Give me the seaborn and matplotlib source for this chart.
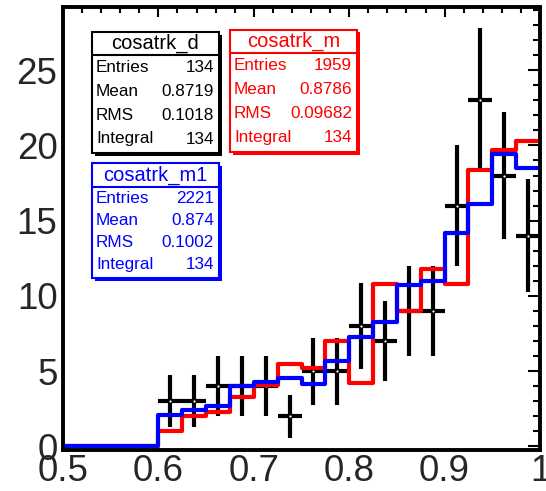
import numpy as np
import pandas as pd
import matplotlib
matplotlib.use("Agg")
import matplotlib.pyplot as plt
from matplotlib.patches import Rectangle
from matplotlib.ticker import MultipleLocator
import seaborn as sns

# cos(theta) of the track, 20 bins between 0.5 and 1.0
n_bins = 20
x_range = (0.5, 1.0)
bin_edges = np.linspace(x_range[0], x_range[1], n_bins + 1)
bin_centers = 0.5 * (bin_edges[:-1] + bin_edges[1:])

# data counts per bin
counts_d = [0, 0, 0, 0, 3, 3, 4, 4, 4, 2, 5, 5, 8, 7, 9, 9, 16, 23, 18, 14]
# MC samples, normalised to the data integral
counts_m = [0, 0, 0, 0, 1.0, 2.0, 2.3, 3.3, 4.1, 5.5, 5.2, 7.0, 4.2, 10.8,
            9.0, 11.8, 10.8, 18.4, 19.7, 20.3]
counts_m1 = [0, 0, 0, 0, 2.1, 2.4, 2.7, 4.0, 4.3, 4.55, 4.15, 5.7, 7.3, 8.3,
             10.7, 11.0, 14.2, 16.1, 19.4, 18.5]

x_ticks = [0.5, 0.6, 0.7, 0.8, 0.9, 1.0]
x_tick_labels = ["0.5", "0.6", "0.7", "0.8", "0.9", "1"]
y_ticks = [0, 5, 10, 15, 20, 25]

# statistics boxes
stats_d = [("Entries", "134"), ("Mean", "0.8719"), ("RMS", "0.1018"), ("Integral", "134")]
stats_m = [("Entries", "1959"), ("Mean", "0.8786"), ("RMS", "0.09682"), ("Integral", "134")]
stats_m1 = [("Entries", "2221"), ("Mean", "0.874"), ("RMS", "0.1002"), ("Integral", "134")]

sns.set_style("white")
plt.rcParams["font.family"] = ["Liberation Sans", "DejaVu Sans"]

W, H = 546, 491
fig = plt.figure(figsize=(W / 100, H / 100), dpi=100)


def fx(px):
    return px / W


def fy(py):
    return 1 - py / H


left, right, top, bottom = 63, 540, 6.5, 449.5
ax = fig.add_axes([fx(left), fy(bottom), fx(right) - fx(left), fy(top) - fy(bottom)])

df = pd.DataFrame({"x": bin_centers, "d": counts_d, "m": counts_m, "m1": counts_m1})

# data points with Poisson errors
nz = df[df["d"] > 0]
ax.errorbar(nz["x"], nz["d"], yerr=np.sqrt(nz["d"]), xerr=0.0125,
            fmt="none", ecolor="black", elinewidth=3.0, capsize=0, zorder=2)
ax.plot(nz["x"], nz["d"], "o", color="white", ms=1.6, mec="none", zorder=2.1)

sns.histplot(data=df, x="x", weights="m", bins=n_bins, binrange=x_range,
             element="step", fill=False, color="#ff0000", linewidth=3.0,
             ax=ax, zorder=3)
sns.histplot(data=df, x="x", weights="m1", bins=n_bins, binrange=x_range,
             element="step", fill=False, color="#0000ff", linewidth=3.0,
             ax=ax, zorder=4)

ax.set_xlim(*x_range)
ax.set_ylim(-0.2, 29.23)
ax.set_xlabel("")
ax.set_ylabel("")
ax.set_xticks(x_ticks)
ax.set_xticklabels(x_tick_labels)
ax.set_yticks(y_ticks)
ax.xaxis.set_minor_locator(MultipleLocator(0.02))
ax.yaxis.set_minor_locator(MultipleLocator(1))

for s in ax.spines.values():
    s.set_visible(True)
    s.set_linewidth(2.8)
    s.set_color("black")
    s.set_zorder(5)

ax.tick_params(axis="both", which="both", direction="in", top=True, right=True,
               color="black", width=1.5, labelsize=26.5)
ax.tick_params(axis="y", which="major", length=9, pad=4)
ax.tick_params(axis="y", which="minor", length=5)
ax.tick_params(axis="x", which="major", length=7, pad=3.5)
ax.tick_params(axis="x", which="minor", length=4)


def stat_box(x0, x1, y0, ysep, y1, title, rows, color):
    sh = 2.5
    fig.add_artist(Rectangle((fx(x0 + sh), fy(y1 + sh)), fx(x1) - fx(x0), fy(y0) - fy(y1),
                             transform=fig.transFigure, facecolor=color,
                             edgecolor="none", zorder=10))
    fig.add_artist(Rectangle((fx(x0), fy(y1)), fx(x1) - fx(x0), fy(y0) - fy(y1),
                             transform=fig.transFigure, facecolor="white",
                             edgecolor=color, linewidth=1.5, zorder=11))
    fig.add_artist(plt.Line2D([fx(x0), fx(x1)], [fy(ysep), fy(ysep)],
                              transform=fig.transFigure, color=color,
                              linewidth=1.5, zorder=12))
    fig.text(fx((x0 + x1) / 2), fy((y0 + ysep) / 2), title, color=color,
             fontsize=14.5, ha="center", va="center", zorder=13)
    step = (y1 - 2 - ysep) / len(rows)
    for i, (lab, val) in enumerate(rows):
        yc = ysep + step * (i + 0.5)
        fig.text(fx(x0 + 4), fy(yc), lab, color=color, fontsize=12.3,
                 ha="left", va="center", zorder=13)
        fig.text(fx(x1 - 5), fy(yc), val, color=color, fontsize=12.3,
                 ha="right", va="center", zorder=13)


stat_box(92, 219, 32, 55, 153, "cosatrk_d", stats_d, "black")
stat_box(230, 357, 30, 53, 152, "cosatrk_m", stats_m, "#ff0000")
stat_box(92, 219, 163, 187, 278, "cosatrk_m1", stats_m1, "#0000ff")

fig.savefig("out.png", dpi=100)
